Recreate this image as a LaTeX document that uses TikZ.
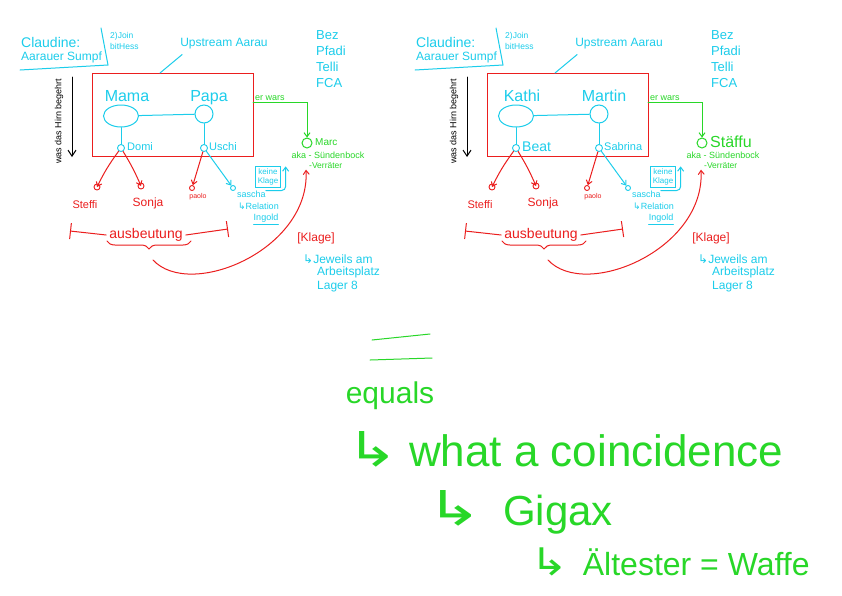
\documentclass[tikz,border=0pt]{standalone}
\usepackage{fontspec}
\setmainfont{Liberation Sans}
\newfontfamily\arrowfont{DejaVu Sans}
\usetikzlibrary{arrows.meta, positioning, shapes.geometric, decorations.pathreplacing}

\definecolor{penblue}{RGB}{28,205,235}
\definecolor{penred}{RGB}{235,30,30}
\definecolor{pengreen}{RGB}{40,215,40}

\begin{document}
\begin{tikzpicture}[x=1pt, y=-1pt, line cap=round,
    fs/.style={font=\fontsize{#1}{#1}\selectfont},
    hk/.style={font=\fontsize{#1}{#1}\arrowfont},
    ink/.style={text=#1, inner sep=0pt},
    parent/.style={draw=penblue, line width=1pt, inner sep=0pt},
    kid/.style={circle, draw=#1, line width=0.9pt, minimum size=7pt, inner sep=0pt},
    pen/.style={draw=#1, line width=1pt},
    arr/.style={->, >={Straight Barb[length=4pt, width=6pt]}, draw=#1, line width=1pt}
  ]
  \fill[white] (0,0) rectangle (842,595);
  \useasboundingbox (0,0) rectangle (842,595);

  % the two family sketches, side by side
  \foreach \dx/\tag/\pa/\pb/\ka/\kfs/\kb/\sb/\sfs in
    {0/L/Mama/Papa/Domi/11/Uschi/Marc/10,
     395/R/Kathi/Martin/Beat/14/Sabrina/Stäffu/16} {
  \begin{scope}[xshift=\dx, name prefix=\tag-]
    % heading
    \node[ink=penblue, fs=14, anchor=west] (claudine) at (21,42) {Claudine:};
    \node[ink=penblue, fs=12, anchor=west] (sumpf) at (21,57) {Aarauer Sumpf};
    \draw[pen=penblue] (20,70) -- (108,65) -- (101,28);
    \node[ink=penblue, anchor=west, align=left, font=\fontsize{8.5}{11}\selectfont] (join) at (110,41) {2)Join\\bitHess};
    \node[ink=penblue, fs=12] (upstream) at (224,44) {Upstream Aarau};
    \node[ink=penblue, anchor=north west, align=left, font=\fontsize{13}{16}\selectfont] (clubs) at (316,30) {Bez\\Pfadi\\Telli\\FCA};

    % the family box
    \node[draw=penred, line width=1pt, minimum width=161, minimum height=83, inner sep=0pt] (box) at (173,115) {};
    \coordinate (boxtop) at (160,73);
    \draw[pen=penblue] ([yshift=-5pt, xshift=2pt]upstream.south west) -- (boxtop);

    \node[parent, ellipse, minimum width=35, minimum height=22] (mum) at (121,116) {};
    \node[parent, circle, minimum size=18] (dad) at (204,114) {};
    \node[ink=penblue, fs=16, anchor=base] (mumname) at (127,101) {\pa};
    \node[ink=penblue, fs=16, anchor=base] (dadname) at (209,101) {\pb};
    \draw[pen=penblue] (mum) -- (dad);
    \node[kid=penblue] (kidA) at (121,148) {};
    \node[kid=penblue] (kidB) at (204,148) {};
    \draw[pen=penblue] (mum) -- (kidA);
    \draw[pen=penblue] (dad) -- (kidB);
    \node[ink=penblue, fs=\kfs, anchor=west] (kidAname) at (127,147) {\ka};
    \node[ink=penblue, fs=11, anchor=west] (kidBname) at (209,147) {\kb};

    % grandchildren
    \node[kid=penred, minimum size=6] (steffi) at (97,187) {};
    \node[kid=penred, minimum size=6] (sonja) at (141,186) {};
    \node[kid=penred, minimum size=5] (paolo) at (192,188) {};
    \node[kid=penblue, minimum size=5] (sascha) at (233,188) {};
    \node[ink=penred, fs=11] (steffiname) at (85,205) {Steffi};
    \node[ink=penred, fs=12] (sonjaname) at (148,203) {Sonja};
    \node[ink=penred, fs=7] (paoloname) at (198,197) {paolo};
    \node[ink=penblue, fs=9, anchor=west] (saschaname) at (237,194) {sascha};
    \node[ink=penblue, fs=9, anchor=west] (relation) at (238,206) {{\arrowfont ↳}Relation};
    \node[ink=penblue, fs=9] (ingold) at (266,218) {Ingold};
    \draw[pen=penblue] ([yshift=-2.5pt]ingold.south west) -- ([yshift=-2.5pt]ingold.south east);
    \node[draw=penblue, line width=0.8pt, ink=penblue, inner sep=2pt, align=center, font=\fontsize{8}{9}\selectfont] (keine) at (268,177) {keine\\Klage};
    \draw[arr=penblue, rounded corners=4pt] (saschaname.north east) -| ([xshift=5pt]keine.north east);

    \draw[arr=penred] (kidA) to[bend right=5] (steffi);
    \draw[arr=penred] (kidA) to[bend left=4] (sonja);
    \draw[arr=penred] (kidB) -- (paolo);
    \draw[arr=penblue] (kidB) -- (sascha);

    % scapegoat
    \node[ink=pengreen, fs=9, anchor=south west, inner xsep=2pt, inner ysep=1.5pt] (erwars) at (253,102) {er wars};
    \node[circle, draw=pengreen, line width=1pt, minimum size=10, inner sep=0pt] (scape) at (307,143) {};
    \draw[arr=pengreen] (erwars.south west) -| (scape);
    \node[ink=pengreen, fs=\sfs, anchor=west] (scapename) at (315,142) {\sb};
    \node[ink=pengreen, fs=9] (aka) at (328,155) {aka - Sündenbock};
    \node[ink=pengreen, fs=8.5, anchor=west] (verr) at (309,165.5) {-Verräter};

    % side note
    \node[rotate=90, fs=9, inner sep=0pt] (hirn) at (59,121) {was das Hirn begehrt};
    \coordinate (hirntop) at (72,77);
    \coordinate (hirnbot) at (72,157);
    \draw[arr=black, >={Straight Barb[length=6pt, width=8pt]}] (hirntop) -- (hirnbot);

    % ausbeutung
    \node[ink=penred, fs=14] (ausb) at (146,235) {ausbeutung};
    \coordinate (ausbL) at (70,231);
    \coordinate (ausbR) at (228,229);
    \draw[pen=penred, {Bar[width=16pt]}-] (ausbL) -- ([xshift=-3pt]ausb.west);
    \draw[pen=penred, -{Bar[width=16pt]}] ([xshift=3pt]ausb.east) -- (ausbR);
    \draw[pen=penred, decorate, decoration={brace, mirror, amplitude=8pt}] (107,241) -- (191,241);
    \coordinate (bracetip) at (153,260);
    \draw[arr=penred] (bracetip) .. controls (190,300) and (310,250) .. ([xshift=-3pt, yshift=-1pt]verr.south west);

    \node[ink=penred, fs=12] (klage) at (316,238) {[Klage]};
    \node[ink=penblue, fs=12, anchor=west] (jeweils) at (303,259) {{\arrowfont ↳}Jeweils am};
    \node[ink=penblue, fs=12, anchor=west] (platz) at (317,272) {Arbeitsplatz};
    \node[ink=penblue, fs=12, anchor=west] (lager) at (317,287) {Lager 8};
  \end{scope}
  }

  % conclusion
  \draw[pen=pengreen] (372,340) -- (430,334);
  \draw[pen=pengreen] (370,360) -- (432,358);
  \node[ink=pengreen, fs=30, anchor=base] (equals) at (390,403) {equals};
  \node[ink=pengreen, hk=48, xscale=1.3, anchor=base west] (hookA) at (346,466) {↳};
  \node[ink=pengreen, fs=44, base right=10pt of hookA] (coinc) {what a coincidence};
  \node[ink=pengreen, hk=48, xscale=1.4, anchor=base west] (hookB) at (426,525) {↳};
  \node[ink=pengreen, fs=42, base right=20pt of hookB] (gigax) {Gigax};
  \node[ink=pengreen, hk=38, xscale=1.2, anchor=base west] (hookC) at (530,575) {↳};
  \node[ink=pengreen, fs=32, base right=14pt of hookC] (waffe) {Ältester = Waffe};
\end{tikzpicture}
\end{document}
